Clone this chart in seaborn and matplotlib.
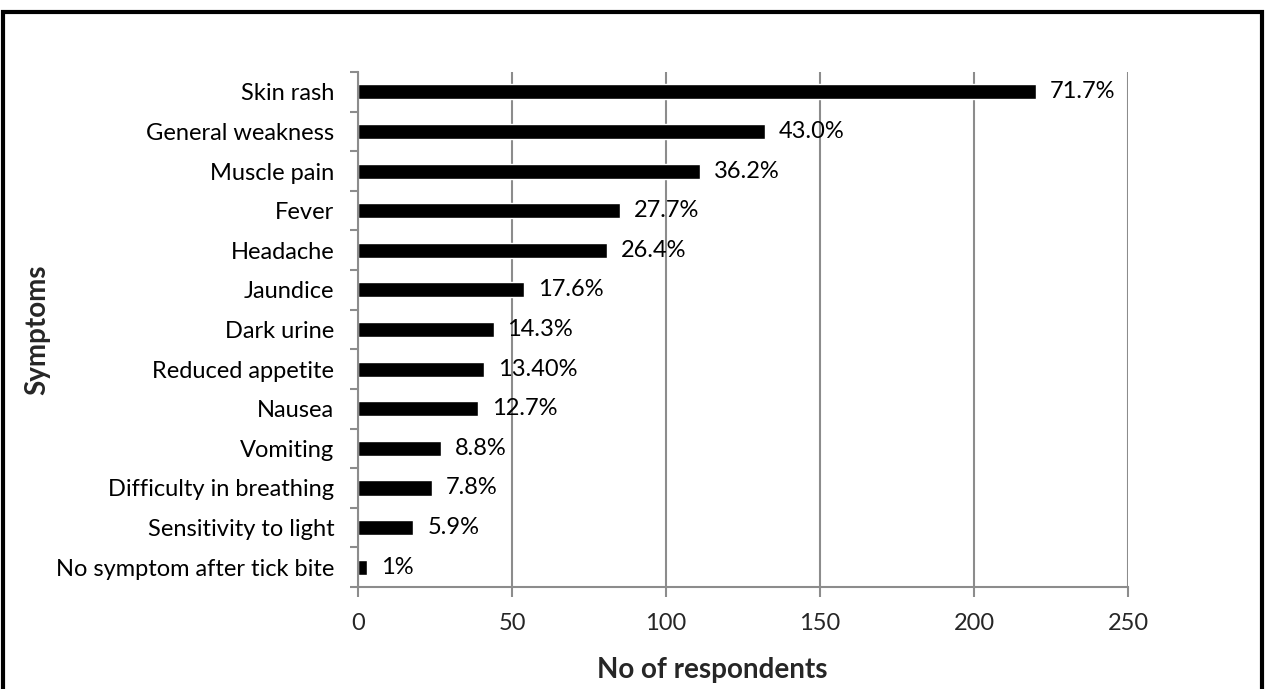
import matplotlib
matplotlib.use("Agg")
import matplotlib.pyplot as plt
import seaborn as sns
import pandas as pd
import numpy as np
from matplotlib.patches import Rectangle
from matplotlib.ticker import FixedLocator

symptoms = ["Skin rash", "General weakness", "Muscle pain", "Fever", "Headache",
            "Jaundice", "Dark urine", "Reduced appetite", "Nausea", "Vomiting",
            "Difficulty in breathing", "Sensitivity to light", "No symptom after tick bite"]
respondents = [220, 132, 111, 85, 81, 54, 44, 41, 39, 27, 24, 18, 3]
pct_labels = ["71.7%", "43.0%", "36.2%", "27.7%", "26.4%", "17.6%", "14.3%",
              "13.40%", "12.7%", "8.8%", "7.8%", "5.9%", "1%"]
x_ticks = [0, 50, 100, 150, 200, 250]

sns.set_theme(style="white")
plt.rcParams['font.family'] = ['Lato', 'DejaVu Sans']

df = pd.DataFrame({"Symptom": symptoms, "Count": respondents})

fig = plt.figure(figsize=(12.65, 6.89), dpi=100)
ax = fig.add_axes([0.283, 0.148, 0.6087, 0.7475])

sns.barplot(data=df, x="Count", y="Symptom", orient="h", color="black",
            width=0.38, ax=ax, saturation=1)

ax.set_xlim(0, 250)
ax.set_ylim(len(symptoms) - 0.5, -0.5)
ax.xaxis.set_major_locator(FixedLocator(x_ticks))
ax.set_xticklabels([str(t) for t in x_ticks], fontsize=17)
ax.grid(axis="x", color="#8c8c8c", linewidth=1.5)
ax.set_axisbelow(True)

# y ticks at category boundaries
ax.yaxis.set_minor_locator(FixedLocator(np.arange(-0.5, len(symptoms), 1.0)))
ax.tick_params(axis="y", which="major", length=0, labelsize=17, pad=17, colors="black")
ax.tick_params(axis="y", which="minor", length=6, width=1.5, color="#8c8c8c", direction="out", left=True)
ax.tick_params(axis="x", which="major", length=7, width=1.5, color="#8c8c8c", direction="out",
               bottom=True, labelsize=17, pad=12)

for s in ["top", "right"]:
    ax.spines[s].set_visible(False)
for s in ["left", "bottom"]:
    ax.spines[s].set_color("#8c8c8c")
    ax.spines[s].set_linewidth(1.5)

for i, (v, lab) in enumerate(zip(respondents, pct_labels)):
    ax.text(v + 4.5, i, lab, va="center", ha="left", fontsize=17, color="black")

ax.set_xlabel("No of respondents", fontsize=20, fontweight="bold")
ax.xaxis.set_label_coords(0.46, -0.135)
ax.set_ylabel("Symptoms", fontsize=20, fontweight="bold")
ax.yaxis.set_label_coords(-0.40, 0.5)

frame = Rectangle((3 / 1265, -0.05), 1259 / 1265, 1.05 - 12 / 689, transform=fig.transFigure,
                  fill=False, edgecolor="black", linewidth=3, clip_on=False)
fig.add_artist(frame)

fig.savefig("out.png", dpi=100, facecolor="white")
